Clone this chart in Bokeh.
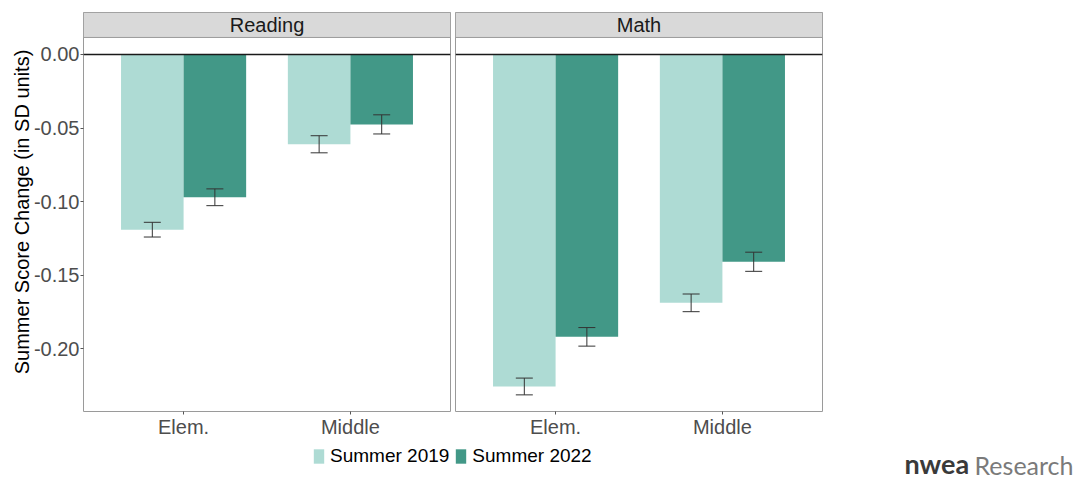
from bokeh.plotting import figure
from bokeh.models import (ColumnDataSource, FactorRange, Range1d, Span, BoxAnnotation,
                          Label, Whisker, TeeHead, FixedTicker, PrintfTickFormatter,
                          Legend, LegendItem)
from bokeh.layouts import column, row
from bokeh.transform import dodge
from bokeh.embed import file_html
from bokeh.resources import INLINE

# ---- data -------------------------------------------------------------
categories = ["Elem.", "Middle"]
series_names = ["Summer 2019", "Summer 2022"]

reading_2019 = [-0.1190, -0.0610]
reading_2022 = [-0.0970, -0.0475]
reading_2019_se = [0.0050, 0.0058]
reading_2022_se = [0.0057, 0.0065]

math_2019 = [-0.2255, -0.1687]
math_2022 = [-0.1918, -0.1408]
math_2019_se = [0.0057, 0.0060]
math_2022_se = [0.0063, 0.0065]

y_ticks = [0.0, -0.05, -0.10, -0.15, -0.20]

# ---- style ------------------------------------------------------------
COLORS = ["#aedbd4", "#429887"]
FONT = "Liberation Sans"
FS = "20px"
Y_MIN, Y_MAX = -0.2425, 0.0285
STRIP_BOTTOM = 0.01155
BAR_W = 0.375
BORDER = "#9a9a9a"
ERR = "#333333"


def make_panel(title, v19, v22, se19, se22, show_y, width, mb_left, mb_right):
    src = ColumnDataSource(dict(
        cat=categories,
        v19=v19, v22=v22,
        lo19=[v - s for v, s in zip(v19, se19)], hi19=[v + s for v, s in zip(v19, se19)],
        lo22=[v - s for v, s in zip(v22, se22)], hi22=[v + s for v, s in zip(v22, se22)],
    ))
    p = figure(x_range=FactorRange(factors=categories, range_padding=0.1,
                                   range_padding_units="absolute"),
               y_range=Range1d(Y_MIN, Y_MAX),
               width=width, height=441,
               min_border_top=12, min_border_bottom=30,
               min_border_left=mb_left, min_border_right=mb_right,
               output_backend="svg", toolbar_location=None)
    p.background_fill_color = "white"
    p.border_fill_color = "white"
    p.outline_line_color = BORDER
    p.outline_line_width = 1
    p.xgrid.visible = False
    p.ygrid.visible = False

    for key, offset, color in (("19", -BAR_W / 2, COLORS[0]), ("22", BAR_W / 2, COLORS[1])):
        xs = dodge("cat", offset, range=p.x_range)
        p.vbar(x=xs, width=BAR_W, top=0, bottom="v" + key, source=src,
               fill_color=color, line_color=None)
        p.add_layout(Whisker(base=xs, upper="hi" + key, lower="lo" + key, source=src,
                             line_color=ERR, line_width=1, level="annotation",
                             upper_head=TeeHead(size=17, line_color=ERR, line_width=1),
                             lower_head=TeeHead(size=17, line_color=ERR, line_width=1)))

    p.add_layout(Span(location=0, dimension="width", line_color="#1a1a1a", line_width=1.6))

    # facet strip
    p.add_layout(BoxAnnotation(bottom=STRIP_BOTTOM, top=Y_MAX, fill_color="#d9d9d9",
                               fill_alpha=1, line_color=BORDER, line_alpha=1,
                               line_width=1, level="annotation"))
    p.add_layout(Label(x=1.0, y=(STRIP_BOTTOM + Y_MAX) / 2, text=title,
                       text_align="center", text_baseline="middle",
                       text_font=FONT, text_font_size=FS, text_color="#1a1a1a"))

    xa = p.xaxis[0]
    xa.axis_line_color = None
    xa.major_tick_out = 3
    xa.major_tick_in = 0
    xa.major_tick_line_color = "#555555"
    xa.minor_tick_line_color = None
    xa.major_label_text_font = FONT
    xa.major_label_text_font_size = FS
    xa.major_label_text_color = "#4d4d4d"
    xa.major_label_standoff = 1

    ya = p.yaxis[0]
    if show_y:
        ya.ticker = FixedTicker(ticks=y_ticks)
        ya.formatter = PrintfTickFormatter(format="%.2f")
        ya.axis_line_color = None
        ya.major_tick_out = 3
        ya.major_tick_in = 0
        ya.minor_tick_line_color = None
        ya.major_tick_line_color = "#555555"
        ya.major_label_text_font = FONT
        ya.major_label_text_font_size = FS
        ya.major_label_text_color = "#4d4d4d"
        ya.major_label_standoff = 1
        ya.axis_label = "Summer Score Change (in SD units)"
        ya.axis_label_text_font = FONT
        ya.axis_label_text_font_size = FS
        ya.axis_label_text_font_style = "normal"
        ya.axis_label_text_color = "black"
        ya.axis_label_standoff = -2
    else:
        ya.visible = False
    return p


reading = make_panel("Reading", reading_2019, reading_2022, reading_2019_se,
                     reading_2022_se, True, 452, 83, 2)
math = make_panel("Math", math_2019, math_2022, math_2019_se, math_2022_se,
                  False, 637, 3, 267)

# ---- legend and credit line ----------------------------------------------
foot = figure(width=1089, height=40, x_range=Range1d(0, 1089), y_range=Range1d(0, 40),
              min_border=0, output_backend="svg", toolbar_location=None)
foot.axis.visible = False
foot.grid.visible = False
foot.outline_line_color = None
foot.background_fill_color = "white"
foot.border_fill_color = "white"

items = []
for name, color in zip(series_names, COLORS):
    # key glyphs only: the single bar sits outside the visible range
    r = foot.vbar(x=[-100], top=[-100], width=1, fill_color=color, line_color=None)
    items.append(LegendItem(label=name, renderers=[r]))
legend = Legend(items=items, orientation="horizontal", location=(312, 14),
                glyph_width=13, glyph_height=18, label_standoff=5, spacing=5,
                padding=0, margin=0, border_line_color=None, background_fill_alpha=0,
                label_text_font=FONT, label_text_font_size="19px", label_text_color="black",
                label_height=18)
foot.add_layout(legend)

foot.add_layout(Label(x=904, y=2, text="nwea", text_font="Lato", text_font_style="bold",
                      text_font_size="27px", text_color="#3a3a3a"))
foot.add_layout(Label(x=974, y=2, text="Research", text_font="Lato",
                      text_font_size="25px", text_color="#7a7a7a"))

layout = column(row(reading, math), foot)

open("out.html", "w").write(file_html(layout, INLINE))
